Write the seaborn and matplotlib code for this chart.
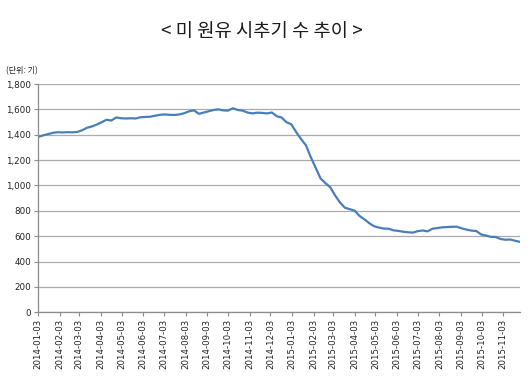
import matplotlib
matplotlib.use("Agg")
import matplotlib.pyplot as plt
import matplotlib.dates as mdates
from matplotlib.ticker import FuncFormatter
import seaborn as sns
import pandas as pd

title = "< 미 원유 시추기 수 추이 >"
unit_label = "(단위: 기)"
start_date = "2014-01-03"
rig_counts = [
    1383, 1395, 1405, 1415, 1420, 1418, 1420, 1419, 1422, 1435,
    1455, 1465, 1480, 1498, 1518, 1512, 1536, 1530, 1528, 1530,
    1528, 1538, 1540, 1542, 1550, 1557, 1560, 1557, 1556, 1560,
    1570, 1585, 1592, 1565, 1575, 1585, 1595, 1600, 1592, 1590,
    1609, 1595, 1590, 1575, 1568, 1574, 1572, 1568, 1575, 1546,
    1536, 1499, 1482, 1421, 1366, 1317, 1223, 1140, 1056, 1019,
    986, 922, 866, 825, 813, 802, 760, 734, 703, 679,
    668, 660, 659, 646, 642, 635, 631, 628, 640, 645,
    638, 659, 664, 670, 672, 674, 675, 662, 652, 644,
    641, 614, 605, 595, 594, 578, 572, 574, 564, 555,
]
y_ticks = [0, 200, 400, 600, 800, 1000, 1200, 1400, 1600, 1800]

dates = pd.date_range(start_date, periods=len(rig_counts), freq="7D")
df = pd.DataFrame({"date": dates, "rigs": rig_counts})

sns.set_style("white")
plt.rcParams["font.family"] = ["Noto Sans CJK KR", "DejaVu Sans"]

fig = plt.figure(figsize=(5.29, 3.77), dpi=100)
ax = fig.add_axes([38.3 / 529, 1 - 312.3 / 377, (520 - 38.3) / 529, (312.3 - 84) / 377])

sns.lineplot(data=df, x="date", y="rigs", ax=ax, color="#4a7ebb", linewidth=1.6)

ax.set_xlim(dates[0], dates[-1])
ax.set_ylim(0, 1800)
ax.set_yticks(y_ticks)
ax.yaxis.set_major_formatter(FuncFormatter(lambda v, p: f"{int(v):,}"))
ax.xaxis.set_major_locator(mdates.MonthLocator(bymonthday=3))
ax.xaxis.set_major_formatter(mdates.DateFormatter("%Y-%m-%d"))
for lbl in ax.get_xticklabels():
    lbl.set_rotation(90)

ax.grid(axis="y", color="#ababab", linewidth=0.9)
ax.set_axisbelow(True)
ax.set_xlabel("")
ax.set_ylabel("")
for s in ["top", "right"]:
    ax.spines[s].set_visible(False)
for s in ["left", "bottom"]:
    ax.spines[s].set_color("#8c8c8c")
    ax.spines[s].set_linewidth(0.9)
ax.tick_params(axis="both", which="major", length=3, width=0.8, color="#8c8c8c",
               direction="out", labelcolor="#222222", pad=2)
ax.tick_params(axis="y", labelsize=6.3)
ax.tick_params(axis="x", labelsize=6.2)
ax.yaxis.set_tick_params(left=True)
ax.xaxis.set_tick_params(bottom=True)
for lbl in ax.get_xticklabels() + ax.get_yticklabels():
    lbl.set_family("DejaVu Sans")

fig.text(262 / 529, 1 - 32 / 377, title, ha="center", va="center", fontsize=13.5,
         color="#1a1a1a")
fig.text(6 / 529, 1 - 71 / 377, unit_label, ha="left", va="center", fontsize=5.8,
         color="#222222")

fig.savefig("out.png", dpi=100)
